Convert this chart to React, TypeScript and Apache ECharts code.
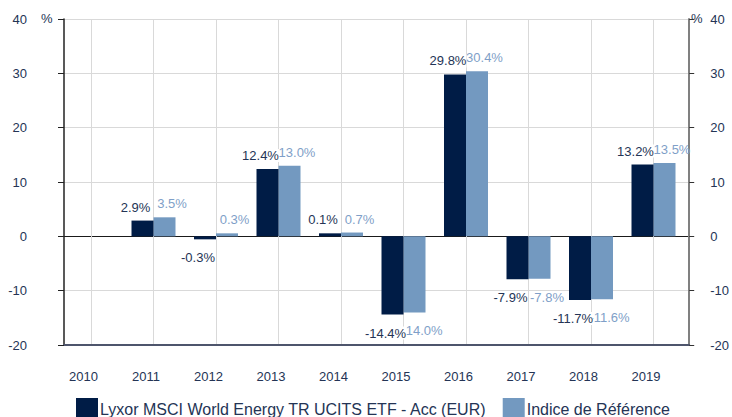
import React, { useEffect, useRef } from 'react';
import * as echarts from 'echarts';

const years = ['2010', '2011', '2012', '2013', '2014', '2015', '2016', '2017', '2018', '2019'];
const fundValues: (number | null)[] = [null, 2.9, -0.3, 12.4, 0.1, -14.4, 29.8, -7.9, -11.7, 13.2];
const indexValues: (number | null)[] = [null, 3.5, 0.3, 13.0, 0.7, -14.0, 30.4, -7.8, -11.6, 13.5];
const seriesNames = ['Lyxor MSCI World Energy TR UCITS ETF - Acc (EUR)', 'Indice de Référence'];
const yMin = -20;
const yMax = 40;
const yInterval = 10;
const unitLabel = '%';

const FONT = 'Liberation Sans, Arial, sans-serif';
const DARK = '#001c46';
const LIGHT = '#7399c0';
const TEXT = '#243455';
const LIGHT_TEXT = '#7f9fc8';
const GRID_COLOR = '#d9d9d9';

function buildData(values: (number | null)[]) {
  return values.map((v) =>
    v === null
      ? { value: null }
      : {
          value: v,
          label: { position: v >= 0 ? 'top' : 'bottom', distance: v >= 0 ? 7 : 12 },
        }
  );
}

export default function App() {
  const ref = useRef<HTMLDivElement>(null);

  useEffect(() => {
    document.body.style.margin = '0';
    if (!ref.current) return;
    const chart = echarts.init(ref.current, null, { renderer: 'svg' });

    const nLines = (yMax - yMin) / yInterval + 1;
    const splitColors: string[] = [];
    for (let i = 0; i < nLines; i++) {
      splitColors.push(yMin + i * yInterval === 0 ? '#1a1a1a' : GRID_COLOR);
    }

    const labelFormatter = (p: any) =>
      p.value === null || p.value === undefined ? '' : Number(p.value).toFixed(1) + '%';

    chart.setOption({
      animation: false,
      textStyle: { fontFamily: FONT },
      grid: [
        { left: 64, right: 40, top: 19, bottom: 72 },
        { left: 91, right: 78.5, top: 19, bottom: 72 },
      ],
      legend: {
        left: 76,
        top: 398,
        padding: 0,
        itemWidth: 22,
        itemHeight: 22,
        itemGap: 16,
        icon: 'rect',
        textStyle: { fontSize: 16, color: TEXT, fontFamily: FONT, padding: [0, 0, 0, -3] },
        data: seriesNames,
      },
      xAxis: [
        {
          gridIndex: 0,
          type: 'value',
          min: 0,
          max: 1,
          axisLine: { show: true, onZero: false, lineStyle: { color: '#4e556c', width: 2 } },
          axisTick: { show: false },
          axisLabel: { show: false },
          splitLine: { show: false },
        },
        {
          gridIndex: 1,
          type: 'category',
          data: years,
          boundaryGap: false,
          axisLine: { show: false },
          axisTick: { show: false },
          axisLabel: {
            interval: 0,
            margin: 25,
            fontSize: 13,
            color: TEXT,
            fontFamily: FONT,
            padding: [0, 15, 0, 0],
          },
          splitLine: { show: true, interval: 0, lineStyle: { color: GRID_COLOR, width: 1 } },
        },
      ],
      yAxis: [
        {
          gridIndex: 0,
          type: 'value',
          position: 'left',
          min: yMin,
          max: yMax,
          interval: yInterval,
          axisLine: { show: true, lineStyle: { color: '#222222', width: 1.5 } },
          axisTick: { show: true, inside: false, length: 6, lineStyle: { color: '#222222' } },
          axisLabel: { margin: 37, fontSize: 13, color: TEXT, fontFamily: FONT },
          splitLine: { show: true, lineStyle: { color: splitColors, width: 1 } },
        },
        {
          gridIndex: 0,
          type: 'value',
          position: 'right',
          min: yMin,
          max: yMax,
          interval: yInterval,
          axisLine: { show: true, lineStyle: { color: '#808080', width: 2 } },
          axisTick: { show: true, inside: false, length: 5, lineStyle: { color: '#333333' } },
          axisLabel: { margin: 21, fontSize: 13, color: TEXT, fontFamily: FONT },
          splitLine: { show: false },
        },
        {
          gridIndex: 1,
          type: 'value',
          min: yMin,
          max: yMax,
          interval: yInterval,
          show: false,
        },
      ],
      graphic: [
        {
          type: 'text',
          left: 41,
          top: 12,
          style: { text: unitLabel, fontSize: 13, fill: TEXT, fontFamily: FONT },
        },
        {
          type: 'text',
          left: 691,
          top: 12,
          style: { text: unitLabel, fontSize: 13, fill: TEXT, fontFamily: FONT },
        },
      ],
      series: [
        {
          name: seriesNames[0],
          type: 'bar',
          xAxisIndex: 1,
          yAxisIndex: 2,
          z: 3,
          barWidth: 22,
          barGap: '0%',
          barMinHeight: 3,
          itemStyle: { color: DARK },
          label: {
            show: true,
            formatter: labelFormatter,
            offset: [-7, 0],
            color: TEXT,
            fontSize: 13,
            fontFamily: FONT,
            backgroundColor: '#ffffff',
          },
          data: buildData(fundValues),
        },
        {
          name: seriesNames[1],
          type: 'bar',
          xAxisIndex: 1,
          yAxisIndex: 2,
          z: 2,
          barWidth: 22,
          barGap: '0%',
          barMinHeight: 3,
          itemStyle: { color: LIGHT },
          label: {
            show: true,
            formatter: labelFormatter,
            offset: [7.5, 0],
            color: LIGHT_TEXT,
            fontSize: 13,
            fontFamily: FONT,
          },
          data: buildData(indexValues),
        },
      ],
    });

    return () => chart.dispose();
  }, []);

  return <div ref={ref} style={{ width: 732, height: 417 }} />;
}
